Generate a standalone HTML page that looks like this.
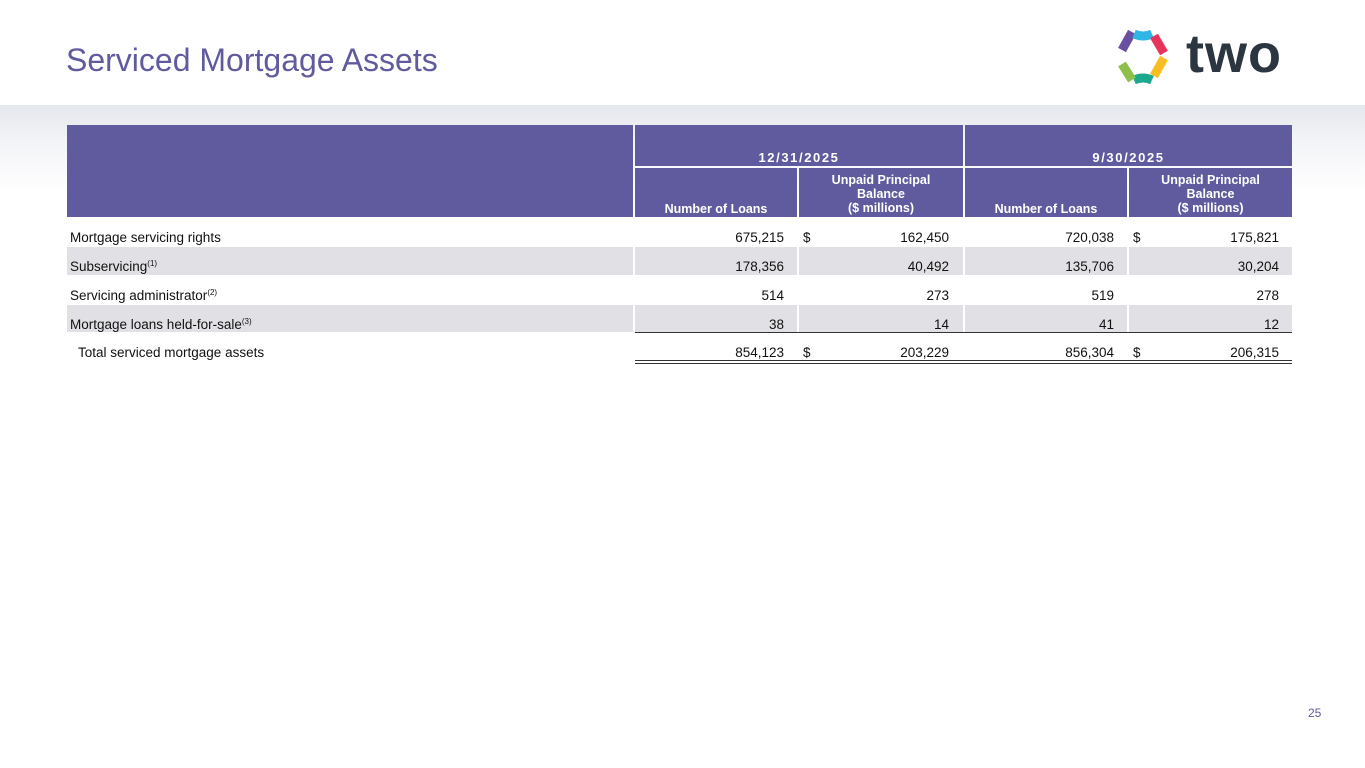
<!DOCTYPE html>
<html><head><style>
body{margin:0;width:1365px;height:768px;position:relative;overflow:hidden;background:#fff;font-family:"Liberation Sans",sans-serif;}
.band{position:absolute;left:0;top:105px;width:1365px;height:90px;background:linear-gradient(#e4e7ec,#f3f4f7 40%,#fff);}
.t{position:absolute;}
.h{background:#5f5b9e;color:#fff;font-weight:bold;font-size:12.5px;text-align:center;position:absolute;box-sizing:border-box;}
.d{letter-spacing:1.6px;font-size:13px;}
.g{background:#e1e0e5;position:absolute;}
.n{position:absolute;font-size:13.5px;color:#111;text-align:right;}
.l{position:absolute;font-size:13.5px;color:#111;left:70px;}
sup{font-size:8px;vertical-align:5px;}
</style></head><body>
<div class="band"></div>
<div class="t" style="left:66px;top:42px;font-size:32px;color:#5f5b9e;">Serviced Mortgage Assets</div>
<svg class="t" style="left:1112px;top:26px" width="62" height="64" viewBox="0 0 62 64">
<g fill="none" stroke-width="9">
<path d="M10 24 L20 6" stroke="#6a4fa0"/><path d="M22 8 Q31 12 40 8" stroke="#2fb5e6"/>
<path d="M42 10 L52 27" stroke="#e8345a"/><path d="M52 32 L42 50" stroke="#f6be22"/>
<path d="M40 54 Q31 50 22 54" stroke="#1ba88e"/><path d="M20 54 L10 38" stroke="#8cc04a"/>
</g></svg>
<div class="t" style="left:1186px;top:24px;font-size:54px;font-weight:bold;color:#2c3640;letter-spacing:1px;line-height:60px;">two</div>

<div class="h" style="left:67px;top:125px;width:566px;height:92px;"></div>
<div class="h d" style="left:635px;top:125px;width:328px;height:41px;padding-top:25px;">12/31/2025</div>
<div class="h d" style="left:965px;top:125px;width:327px;height:41px;padding-top:25px;">9/30/2025</div>
<div class="h" style="left:635px;top:168px;width:162px;height:49px;padding-top:34px;">Number of Loans</div>
<div class="h" style="left:799px;top:168px;width:164px;height:49px;padding-top:5px;line-height:14px;">Unpaid Principal<br>Balance<br>($ millions)</div>
<div class="h" style="left:965px;top:168px;width:162px;height:49px;padding-top:34px;">Number of Loans</div>
<div class="h" style="left:1129px;top:168px;width:163px;height:49px;padding-top:5px;line-height:14px;">Unpaid Principal<br>Balance<br>($ millions)</div>

<div class="g" style="left:67px;top:247px;width:566px;height:28px"></div>
<div class="g" style="left:635px;top:247px;width:162px;height:28px"></div>
<div class="g" style="left:799px;top:247px;width:164px;height:28px"></div>
<div class="g" style="left:965px;top:247px;width:162px;height:28px"></div>
<div class="g" style="left:1129px;top:247px;width:163px;height:28px"></div>
<div class="g" style="left:67px;top:305px;width:566px;height:27px"></div>
<div class="g" style="left:635px;top:305px;width:162px;height:27px"></div>
<div class="g" style="left:799px;top:305px;width:164px;height:27px"></div>
<div class="g" style="left:965px;top:305px;width:162px;height:27px"></div>
<div class="g" style="left:1129px;top:305px;width:163px;height:27px"></div>
<div class="t" style="left:635px;top:332px;width:657px;height:1px;background:#333"></div>
<div class="t" style="left:635px;top:360px;width:657px;height:1px;background:#333"></div>
<div class="t" style="left:635px;top:363px;width:657px;height:1px;background:#333"></div>

<div class="l" style="top:230px">Mortgage servicing rights</div>
<div class="l" style="top:259px">Subservicing<sup>(1)</sup></div>
<div class="l" style="top:288px">Servicing administrator<sup>(2)</sup></div>
<div class="l" style="top:317px">Mortgage loans held-for-sale<sup>(3)</sup></div>
<div class="l" style="top:345px;left:78px">Total serviced mortgage assets</div>

<div class="n" style="left:803px;top:230px">$</div><div class="n" style="left:1133px;top:230px">$</div>
<div class="n" style="left:803px;top:345px">$</div><div class="n" style="left:1133px;top:345px">$</div>

<div class="n" style="right:581px;top:230px">675,215</div><div class="n" style="right:416px;top:230px">162,450</div><div class="n" style="right:251px;top:230px">720,038</div><div class="n" style="right:86px;top:230px">175,821</div>
<div class="n" style="right:581px;top:259px">178,356</div><div class="n" style="right:416px;top:259px">40,492</div><div class="n" style="right:251px;top:259px">135,706</div><div class="n" style="right:86px;top:259px">30,204</div>
<div class="n" style="right:581px;top:288px">514</div><div class="n" style="right:416px;top:288px">273</div><div class="n" style="right:251px;top:288px">519</div><div class="n" style="right:86px;top:288px">278</div>
<div class="n" style="right:581px;top:317px">38</div><div class="n" style="right:416px;top:317px">14</div><div class="n" style="right:251px;top:317px">41</div><div class="n" style="right:86px;top:317px">12</div>
<div class="n" style="right:581px;top:345px">854,123</div><div class="n" style="right:416px;top:345px">203,229</div><div class="n" style="right:251px;top:345px">856,304</div><div class="n" style="right:86px;top:345px">206,315</div>

<div class="t" style="left:1308px;top:706px;font-size:12px;color:#5f5b9e">25</div>
</body></html>
